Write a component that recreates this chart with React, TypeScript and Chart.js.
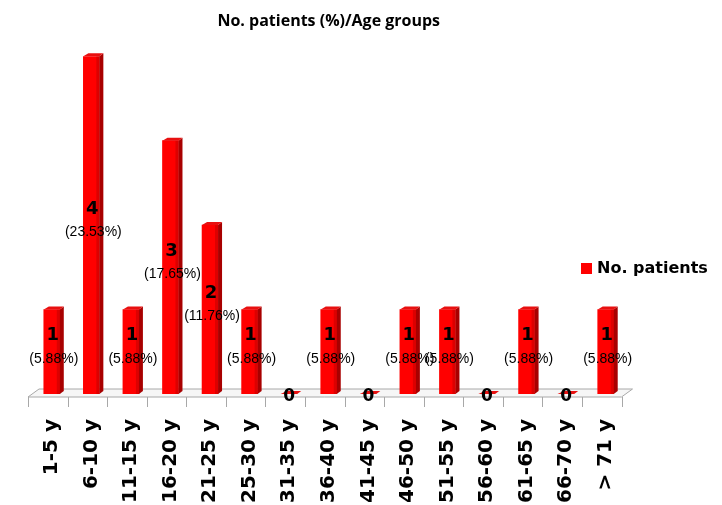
import React, { useEffect, useRef } from 'react';
import { Chart, registerables } from 'chart.js';

Chart.register(...registerables);

const TITLE = 'No. patients (%)/Age groups';
const SERIES_LABEL = 'No. patients';
const AGE_GROUPS = ['1-5 y', '6-10 y', '11-15 y', '16-20 y', '21-25 y', '25-30 y', '31-35 y', '36-40 y', '41-45 y', '46-50 y', '51-55 y', '56-60 y', '61-65 y', '66-70 y', '> 71 y'];
const PATIENTS = [1, 4, 1, 3, 2, 1, 0, 1, 0, 1, 1, 0, 1, 0, 1];
const Y_MAX = 4;

const RED = '#FF0000';
const SIDE = '#A80000';
const TOP = '#E81010';
const DX = 4;
const DY = 3;

const total = PATIENTS.reduce((a, b) => a + b, 0);

const floorPlugin = {
  id: 'floor3d',
  beforeDatasetsDraw(chart: any) {
    const { ctx, chartArea: ca } = chart;
    const n = AGE_GROUPS.length;
    const fx0 = ca.left - 4;
    const fx1 = ca.right - 4;
    const fy = ca.bottom + 3;
    const bx0 = fx0 + 11;
    const bx1 = fx1 + 11;
    const by = fy - 8;
    ctx.save();
    ctx.beginPath();
    ctx.moveTo(fx0, fy);
    ctx.lineTo(fx1, fy);
    ctx.lineTo(bx1, by);
    ctx.lineTo(bx0, by);
    ctx.closePath();
    ctx.fillStyle = '#f6f6f6';
    ctx.fill();
    ctx.strokeStyle = '#a8a8a8';
    ctx.lineWidth = 1;
    ctx.stroke();
    ctx.beginPath();
    for (let i = 0; i <= n; i++) {
      const xx = Math.round(fx0 + (i * (fx1 - fx0)) / n) + 0.5;
      ctx.moveTo(xx, fy);
      ctx.lineTo(xx, fy + 10);
    }
    ctx.stroke();
    ctx.restore();
  },
};

const barsPlugin = {
  id: 'bars3d',
  afterDatasetsDraw(chart: any) {
    const { ctx } = chart;
    const meta = chart.getDatasetMeta(0);
    ctx.save();
    meta.data.forEach((el: any) => {
      const w = el.width;
      const l = el.x - w / 2;
      const r = el.x + w / 2;
      const top = el.y;
      const base = el.base;
      // darker right strip on the front face
      ctx.fillStyle = 'rgba(120,0,0,0.25)';
      ctx.fillRect(r - 3, top, 3, base - top);
      // side face
      ctx.beginPath();
      ctx.moveTo(r, top);
      ctx.lineTo(r + DX, top - DY);
      ctx.lineTo(r + DX, base - DY);
      ctx.lineTo(r, base);
      ctx.closePath();
      ctx.fillStyle = SIDE;
      ctx.fill();
      // top face
      ctx.beginPath();
      ctx.moveTo(l, top);
      ctx.lineTo(r, top);
      ctx.lineTo(r + DX, top - DY);
      ctx.lineTo(l + DX + 1, top - DY);
      ctx.closePath();
      ctx.fillStyle = TOP;
      ctx.fill();
    });
    // labels
    ctx.fillStyle = '#000';
    ctx.textAlign = 'center';
    ctx.textBaseline = 'middle';
    meta.data.forEach((el: any, i: number) => {
      const v = PATIENTS[i];
      if (v > 0) {
        const mid = (el.y + el.base) / 2;
        ctx.font = 'bold 18px "DejaVu Sans"';
        ctx.fillText(String(v), el.x + 1, mid - 16);
        ctx.font = '14px "Liberation Sans"';
        ctx.fillText('(' + ((v / total) * 100).toFixed(2) + '%)', el.x + 2, mid + 7);
      } else {
        ctx.font = 'bold 17px "DejaVu Sans"';
        ctx.fillText('0', el.x, el.base + 3);
      }
    });
    ctx.restore();
  },
};

const legendPlugin = {
  id: 'customLegend',
  afterDraw(chart: any) {
    const { ctx } = chart;
    const ds = chart.data.datasets[0];
    ctx.save();
    ctx.fillStyle = ds.backgroundColor;
    ctx.fillRect(581, 263, 11, 11);
    ctx.fillStyle = '#000';
    ctx.font = 'bold 16px "DejaVu Sans"';
    ctx.textAlign = 'left';
    ctx.textBaseline = 'middle';
    ctx.fillText(ds.label, 597, 268.5);
    ctx.restore();
  },
};

export default function App() {
  const ref = useRef<HTMLCanvasElement>(null);
  useEffect(() => {
    if (!ref.current) return;
    const chart = new Chart(ref.current, {
      type: 'bar',
      data: {
        labels: AGE_GROUPS,
        datasets: [
          {
            label: SERIES_LABEL,
            data: PATIENTS,
            backgroundColor: RED,
            borderWidth: 0,
            barThickness: 16,
          },
        ],
      },
      options: {
        responsive: false,
        animation: false,
        layout: { padding: { left: 32, right: 96.5, top: 0, bottom: 0 } },
        plugins: {
          legend: { display: false },
          tooltip: { enabled: false },
          title: {
            display: true,
            text: TITLE,
            color: '#000',
            font: { family: '"Open Sans"', weight: 'bold', size: 16 },
            padding: { top: 12, bottom: 25 },
          },
        },
        scales: {
          x: {
            grid: { display: false, drawTicks: false },
            border: { display: false },
            ticks: {
              autoSkip: false,
              maxRotation: 90,
              minRotation: 90,
              padding: 25,
              color: '#000',
              font: { family: '"DejaVu Sans"', weight: 'bold', size: 20 },
            },
            afterFit(scale: any) {
              scale.height = 111;
            },
          },
          y: {
            display: false,
            min: 0,
            max: Y_MAX,
          },
        },
      },
      plugins: [floorPlugin, barsPlugin, legendPlugin],
    } as any);
    return () => chart.destroy();
  }, []);
  return (
    <div style={{ position: 'absolute', left: 0, top: 0, width: 722, height: 505, background: '#fff' }}>
      <canvas ref={ref} width={722} height={505} style={{ display: 'block' }} />
    </div>
  );
}
